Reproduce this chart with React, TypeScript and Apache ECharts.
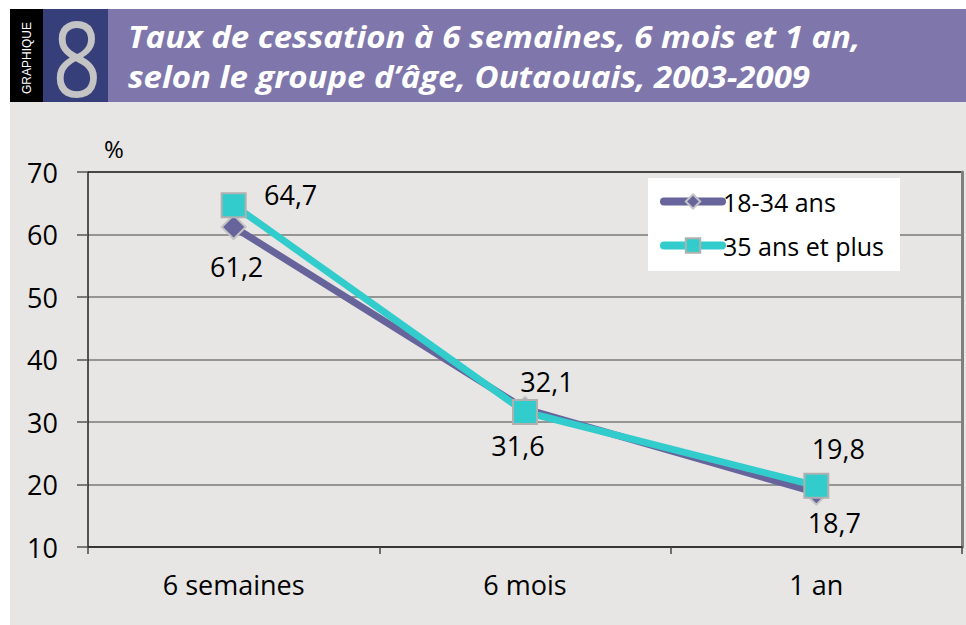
import React, { useEffect, useRef } from "react";
import * as echarts from "echarts";

const categories = ["6 semaines", "6 mois", "1 an"];
const seriesNames = ["18-34 ans", "35 ans et plus"];
const young = [61.2, 32.1, 18.7];
const older = [64.7, 31.6, 19.8];
const yTicks = [10, 20, 30, 40, 50, 60, 70];

const youngOffsets = [[3, 39], [22, -27], [18, 30]];
const olderOffsets = [[57, -11], [-7, 33], [22, -37]];

const FONT = "'Open Sans', 'Noto Sans', sans-serif";

export default function App() {
  const ref = useRef<HTMLDivElement>(null);
  useEffect(() => {
    if (!ref.current) return;
    const chart = echarts.init(ref.current, undefined, { renderer: "svg" });
    const fmt = (v: number) => String(v).replace(".", ",");
    const mk = (vals: number[], offs: number[][]) =>
      vals.map((v, i) => ({
        value: v,
        label: { offset: offs[i] },
      }));
    chart.setOption({
      animation: false,
      backgroundColor: "#ffffff",
      textStyle: { fontFamily: FONT },
      graphic: [
        { type: "rect", z: -10, shape: { x: 10, y: 102, width: 956, height: 523 }, style: { fill: "#e7e6e4" } },
        { type: "rect", z: -10, shape: { x: 10, y: 9, width: 33, height: 93 }, style: { fill: "#000000" } },
        { type: "rect", z: -10, shape: { x: 43, y: 9, width: 65, height: 93 }, style: { fill: "#363f7a" } },
        { type: "rect", z: -10, shape: { x: 108, y: 9, width: 858, height: 93 }, style: { fill: "#7f77ab" } },
        {
          type: "text",
          x: 27,
          y: 58,
          rotation: Math.PI / 2,
          style: {
            text: "GRAPHIQUE",
            fill: "#ffffff",
            font: "12px 'Liberation Sans', Arial, sans-serif",
            align: "center",
            verticalAlign: "middle",
          },
        },
        {
          type: "text",
          x: 77,
          y: 57,
          scaleX: 0.97,
          scaleY: 1.18,
          style: {
            text: "8",
            fill: "#c4c4c4",
            font: "88px " + FONT,
            lineHeight: 74,
            align: "center",
            verticalAlign: "middle",
          },
        },
        {
          type: "text",
          x: 128,
          y: 36,
          scaleX: 1.065,
          style: {
            text: "Taux de cessation à 6 semaines, 6 mois et 1 an,",
            fill: "#ffffff",
            font: "italic bold 31px " + FONT,
            verticalAlign: "middle",
          },
        },
        {
          type: "text",
          x: 128,
          y: 76,
          scaleX: 1.065,
          style: {
            text: "selon le groupe d’âge, Outaouais, 2003-2009",
            fill: "#ffffff",
            font: "italic bold 31px " + FONT,
            verticalAlign: "middle",
          },
        },
        {
          type: "text",
          x: 114,
          y: 148,
          style: {
            text: "%",
            fill: "#000000",
            font: "24px " + FONT,
            align: "center",
            verticalAlign: "middle",
          },
        },
      ],
      grid: { left: 88, right: 4, top: 172, bottom: 78, containLabel: false },
      legend: {
        left: 648,
        top: 178,
        orient: "vertical",
        backgroundColor: "#ffffff",
        padding: [11, 16, 13, 12],
        itemGap: 19,
        itemWidth: 58,
        itemHeight: 18,
        lineStyle: { width: 8, cap: "round" },
        textStyle: { fontSize: 25, color: "#000", fontFamily: FONT, padding: [0, 0, 0, -4] },
        data: seriesNames,
      },
      xAxis: {
        type: "category",
        data: categories,
        boundaryGap: true,
        axisLine: { lineStyle: { color: "#222", width: 1.5 } },
        axisTick: { show: true, length: 7, lineStyle: { color: "#444", width: 1.5 } },
        axisLabel: { fontSize: 27, color: "#000", margin: 24, fontFamily: FONT },
      },
      yAxis: [
        {
          type: "value",
          min: 10,
          max: 70,
          interval: 10,
          axisLine: { show: true, lineStyle: { color: "#222", width: 1.5 } },
          axisTick: { show: true, length: 11, lineStyle: { color: "#555", width: 1.5 } },
          axisLabel: {
            fontSize: 27,
            color: "#000",
            margin: 30,
            fontFamily: FONT,
            formatter: (v: number) => (yTicks.includes(v) ? String(v) : ""),
          },
          splitLine: {
            show: true,
            lineStyle: {
              color: ["#555", "#7a7a7a", "#7a7a7a", "#7a7a7a", "#7a7a7a", "#7a7a7a", "#111"],
              width: 1.5,
            },
          },
        },
        {
          type: "value",
          min: 10,
          max: 70,
          interval: 10,
          position: "right",
          axisLine: { show: true, lineStyle: { color: "#808080", width: 3 } },
          axisTick: { show: false },
          axisLabel: { show: false },
          splitLine: { show: false },
        },
      ],
      series: [
        {
          name: seriesNames[0],
          type: "line",
          data: mk(young, youngOffsets),
          symbol: "diamond",
          symbolSize: 24,
          lineStyle: { color: "#67649c", width: 7 },
          itemStyle: { color: "#67649c", borderColor: "#c4c4c4", borderWidth: 2 },
          label: {
            show: true,
            position: "inside",
            color: "#000",
            fontSize: 27,
            fontFamily: FONT,
            formatter: (p: any) => fmt(p.value),
          },
          z: 2,
        },
        {
          name: seriesNames[1],
          type: "line",
          data: mk(older, olderOffsets),
          symbol: "rect",
          symbolSize: 24,
          lineStyle: { color: "#33cccc", width: 7 },
          itemStyle: { color: "#33cccc", borderColor: "#b0b0b0", borderWidth: 2 },
          label: {
            show: true,
            position: "inside",
            color: "#000",
            fontSize: 27,
            fontFamily: FONT,
            formatter: (p: any) => fmt(p.value),
          },
          z: 3,
        },
      ],
    });
    return () => chart.dispose();
  }, []);
  return (
    <div
      ref={ref}
      style={{ position: "fixed", left: 0, top: 0, width: 966, height: 625 }}
    />
  );
}
